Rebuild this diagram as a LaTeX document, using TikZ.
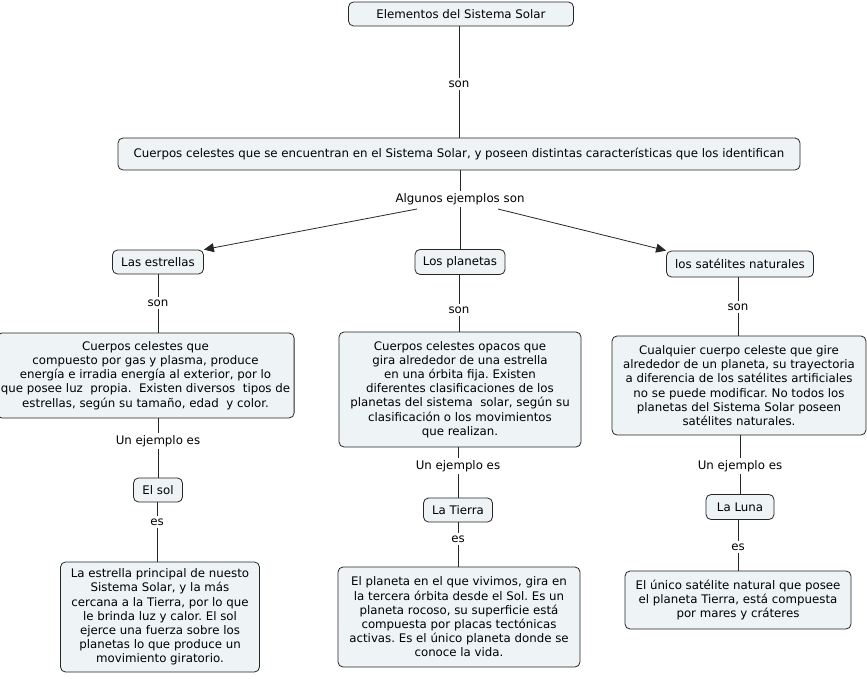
\documentclass[tikz,border=0pt]{standalone}
\usepackage{fontspec}
\setmainfont{DejaVu Sans}
\usetikzlibrary{arrows.meta}
\definecolor{boxfill}{HTML}{EEF3F5}
\frenchspacing
\tikzset{
  concept/.style={draw=black!85, fill=boxfill, rounded corners=5pt, line width=0.8pt, align=center, font=\fontsize{11.8}{14.2}\selectfont, inner sep=4pt},
  lbl/.style={font=\fontsize{11.8}{14.2}\selectfont, inner sep=2pt, fill=white},
  conn/.style={line width=0.8pt, draw=black!85},
  arr/.style={conn, -{Triangle[length=10pt,width=9pt]}}
}
\begin{document}
\begin{tikzpicture}[x=1pt,y=-1pt]
\useasboundingbox (0,0) rectangle (867,679);
% nodes
\node[concept, minimum width=225pt, minimum height=24pt] (top) at (461,14) {Elementos del Sistema Solar};
\node[concept, minimum width=682pt, minimum height=32pt] (cuerpos) at (459,154) {Cuerpos celestes que se encuentran en el Sistema Solar, y poseen distintas características que los identifican};
\node[concept, minimum width=91pt, minimum height=24pt] (estrellas) at (158,262) {Las estrellas};
\node[concept, minimum width=90pt, minimum height=25pt] (planetas) at (460,262) {Los planetas};
\node[concept, minimum width=147pt, minimum height=26pt] (satelites) at (740,264) {los satélites naturales};
\node[concept, minimum width=289pt, minimum height=85pt] (dEst) at (145.5,375.5) {Cuerpos celestes que\\ compuesto por gas y plasma, produce\\ energía e irradia energía al exterior, por lo\\ que posee luz \ propia. \ Existen diversos \ tipos de\\ estrellas, según su tamaño, edad \ y color.};
\node[concept, minimum width=242pt, minimum height=115pt] (dPla) at (460,389.5) {Cuerpos celestes opacos que\\ gira alrededor de una estrella\\ en una órbita fija. Existen\\ diferentes clasificaciones de los\\ planetas del sistema \ solar, según su\\ clasificación o los movimientos\\ que realizan.};
\node[concept, minimum width=254pt, minimum height=99pt] (dSat) at (739,385.5) {Cualquier cuerpo celeste que gire\\ alrededor de un planeta, su trayectoria\\ a diferencia de los satélites artificiales\\ no se puede modificar. No todos los\\ planetas del Sistema Solar poseen\\ satélites naturales.};
\node[concept, minimum width=49pt, minimum height=24pt] (sol) at (158,490) {El sol};
\node[concept, minimum width=69pt, minimum height=24pt] (tierra) at (458,510) {La Tierra};
\node[concept, minimum width=68pt, minimum height=25pt] (luna) at (740,507) {La Luna};
\node[concept, minimum width=199pt, minimum height=110pt] (dSol) at (160,617) {La estrella principal de nuesto\\ Sistema Solar, y la más\\ cercana a la Tierra, por lo que\\ le brinda luz y calor. El sol\\ ejerce una fuerza sobre los\\ planetas lo que produce un\\ movimiento giratorio.};
\node[concept, minimum width=242pt, minimum height=100pt] (dTie) at (459,617) {El planeta en el que vivimos, gira en\\ la tercera órbita desde el Sol. Es un\\ planeta rocoso, su superficie está\\ compuesta por placas tectónicas\\ activas. Es el único planeta donde se\\ conoce la vida.};
\node[concept, minimum width=226pt, minimum height=58pt] (dLun) at (738,600) {El único satélite natural que posee\\ el planeta Tierra, está compuesta\\ por mares y cráteres};
% labels
\node[lbl] (l1) at (459,84) {son};
\node[lbl] (l2) at (460,199) {Algunos ejemplos son};
\node[lbl] (l3) at (158,303) {son};
\node[lbl] (l4) at (459,310) {son};
\node[lbl] (l5) at (738,307) {son};
\node[lbl] (l6) at (158,441) {Un ejemplo es};
\node[lbl] (l7) at (458,466) {Un ejemplo es};
\node[lbl] (l8) at (740,466) {Un ejemplo es};
\node[lbl] (l9) at (157,522) {es};
\node[lbl] (l10) at (458,539) {es};
\node[lbl] (l11) at (738,547) {es};
% connectors
\coordinate (a1) at (417,209);
\coordinate (a2) at (498,209);
\draw[conn] (top.south -| l1) -- (l1);
\draw[conn] (l1) -- (cuerpos.north -| l1);
\draw[conn] (cuerpos.south -| l2) -- (l2);
\draw[arr] (a1) -- (estrellas.north east);
\draw[conn] (l2) -- (planetas);
\draw[arr] (a2) -- (satelites.north west);
\draw[conn] (estrellas.south -| l3) -- (l3);
\draw[conn] (l3) -- (dEst.north -| l3);
\draw[conn] (planetas.south -| l4) -- (l4);
\draw[conn] (l4) -- (dPla.north -| l4);
\draw[conn] (satelites.south -| l5) -- (l5);
\draw[conn] (l5) -- (dSat.north -| l5);
\draw[conn] (dEst.south -| l6) -- (l6);
\draw[conn] (l6) -- (sol.north -| l6);
\draw[conn] (dPla.south -| l7) -- (l7);
\draw[conn] (l7) -- (tierra.north -| l7);
\draw[conn] (dSat.south -| l8) -- (l8);
\draw[conn] (l8) -- (luna.north -| l8);
\draw[conn] (sol.south -| l9) -- (l9);
\draw[conn] (l9) -- (dSol.north -| l9);
\draw[conn] (tierra.south -| l10) -- (l10);
\draw[conn] (l10) -- (dTie.north -| l10);
\draw[conn] (luna.south -| l11) -- (l11);
\draw[conn] (l11) -- (dLun.north -| l11);
\end{tikzpicture}
\end{document}
